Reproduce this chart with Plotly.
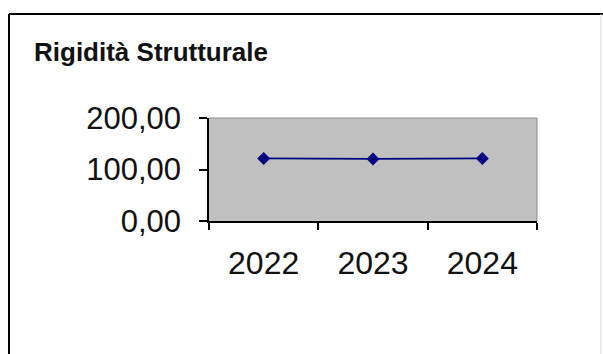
import plotly.graph_objects as go

# Data
years = ["2022", "2023", "2024"]
rigidita = [121.5, 120.5, 121.5]
y_ticks = [0, 100, 200]

W, H = 603, 354
L, R, T, B = 209, 66, 118, 133
plot_w = W - L - R
plot_h = H - T - B


def px_x(px):
    return (px - L) / plot_w


def px_y(py):
    return (H - B - py) / plot_h


fig = go.Figure()
fig.add_trace(go.Scatter(
    x=years,
    y=rigidita,
    mode="lines+markers",
    line=dict(color="#000080", width=1.8),
    marker=dict(symbol="diamond", size=10, color="#000080"),
    showlegend=False,
))

font_family = "Liberation Sans, Arial, sans-serif"

fig.update_layout(
    width=W,
    height=H,
    margin=dict(l=L, r=R, t=T, b=B),
    paper_bgcolor="white",
    plot_bgcolor="#c0c0c0",
    separators=",.",
    font=dict(family=font_family, color="#111111"),
    title=dict(
        text="<b>Rigidità Strutturale</b>",
        font=dict(size=26, family=font_family, color="#111111"),
        xref="container", yref="container",
        x=34 / W, xanchor="left",
        y=1 - 52 / H, yanchor="middle",
    ),
    xaxis=dict(
        type="category",
        range=[-0.5, 2.5],
        tickson="boundaries",
        ticks="outside",
        ticklen=7,
        tickcolor="black",
        tickwidth=1.5,
        showline=True,
        linecolor="black",
        linewidth=1.5,
        showgrid=False,
        tickfont=dict(size=32),
        ticklabelstandoff=13,
    ),
    yaxis=dict(
        range=[0, 200],
        tickvals=y_ticks,
        tickformat=".2f",
        ticks="outside",
        ticklen=8,
        tickcolor="black",
        tickwidth=1.5,
        showline=True,
        linecolor="black",
        linewidth=1.5,
        showgrid=False,
        zeroline=False,
        tickfont=dict(size=31),
        ticklabelstandoff=12,
    ),
    shapes=[
        # thin grey frame on the top and right of the plot area
        dict(type="line", xref="paper", yref="paper", x0=0, x1=1, y0=1, y1=1,
             line=dict(color="#8a8a8a", width=1)),
        dict(type="line", xref="paper", yref="paper", x0=1, x1=1, y0=0, y1=1,
             line=dict(color="#8a8a8a", width=1)),
        # outer chart border
        dict(type="line", xref="paper", yref="paper",
             x0=px_x(9), x1=px_x(603), y0=px_y(14), y1=px_y(14),
             line=dict(color="black", width=2)),
        dict(type="line", xref="paper", yref="paper",
             x0=px_x(9), x1=px_x(9), y0=px_y(14), y1=px_y(360),
             line=dict(color="black", width=2)),
        dict(type="line", xref="paper", yref="paper",
             x0=px_x(601), x1=px_x(601), y0=px_y(14), y1=px_y(360),
             line=dict(color="#d8d8d8", width=1)),
    ],
)

fig.write_html("out.html")
